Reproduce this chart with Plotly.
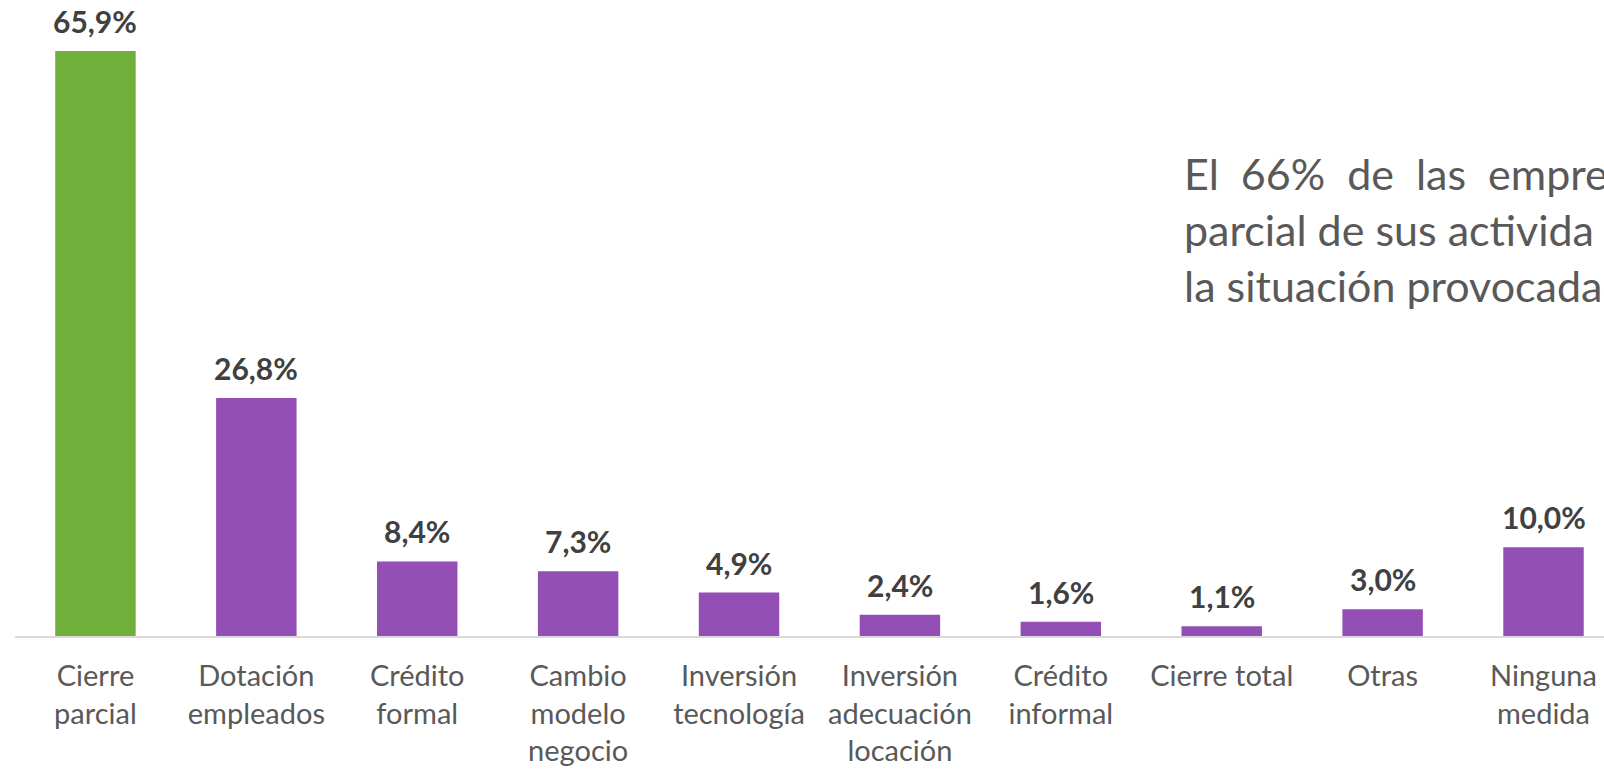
import plotly.graph_objects as go

categories = ["Cierre<br>parcial", "Dotación<br>empleados", "Crédito<br>formal",
              "Cambio<br>modelo<br>negocio", "Inversión<br>tecnología",
              "Inversión<br>adecuación<br>locación", "Crédito<br>informal",
              "Cierre total", "Otras", "Ninguna<br>medida"]
values = [65.9, 26.8, 8.4, 7.3, 4.9, 2.4, 1.6, 1.1, 3.0, 10.0]
value_labels = ["65,9%", "26,8%", "8,4%", "7,3%", "4,9%", "2,4%", "1,6%", "1,1%", "3,0%", "10,0%"]
bar_colors = ["#71AF3D"] + ["#934FB5"] * 9

nb = "\u00a0"
note_lines = [
    "El" + nb * 2 + "66%" + nb * 2 + "de" + nb * 2 + "las" + nb + " empre",
    "parcial de sus activida",
    "la situación provocada",
]

FONT = "Lato"

fig = go.Figure()
fig.add_trace(go.Bar(
    x=list(range(len(categories))),
    y=values,
    marker=dict(color=bar_colors, line=dict(width=0)),
    width=0.5,
    hoverinfo="skip",
))

for i, (v, t) in enumerate(zip(values, value_labels)):
    fig.add_annotation(
        x=i, y=v, text=f"<b>{t}</b>", showarrow=False,
        xanchor="center", yanchor="bottom", yshift=10,
        font=dict(family=FONT, size=30, color="#404040"),
    )

fig.add_annotation(
    xref="paper", yref="paper", x=0.0, y=1.0,
    xshift=1182 - 15, yshift=-146,
    text="<br>".join(note_lines), showarrow=False,
    xanchor="left", yanchor="top", align="left",
    font=dict(family=FONT, size=43, color="#595959"),
)

fig.update_layout(
    width=1604, height=772,
    margin=dict(l=15, r=0, t=0, b=136),
    paper_bgcolor="white", plot_bgcolor="white",
    showlegend=False,
    xaxis=dict(
        range=[-0.5, 9.376],
        tickmode="array",
        tickvals=list(range(len(categories))),
        ticktext=categories,
        showgrid=False, zeroline=False,
        showline=True, linecolor="#D9D9D9", linewidth=2,
        ticks="", ticklabelstandoff=13,
        tickfont=dict(family=FONT, size=29, color="#595959"),
        automargin=False,
    ),
    yaxis=dict(
        range=[0, 71.65], visible=False, showgrid=False, zeroline=False,
    ),
)

fig.write_html(
    "out.html",
    config={"displayModeBar": False},
    post_script="document.body.style.margin='0';document.body.style.overflow='hidden';",
)
